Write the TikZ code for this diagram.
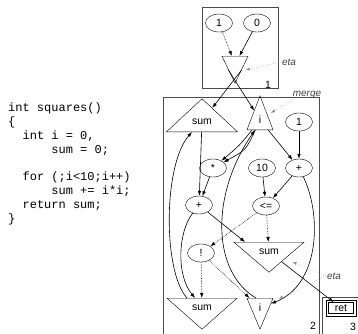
\documentclass[tikz,border=0pt]{standalone}
\usepackage{fontspec}
\setmainfont{Liberation Sans}
\setmonofont{Liberation Mono}
\usetikzlibrary{shapes.geometric, arrows.meta}
\tikzset{x=1pt,y=-1pt}
\tikzset{
  every node/.style={font=\fontsize{10.5}{12}\selectfont},
  op/.style={draw, ellipse, minimum width=27pt, minimum height=18pt, inner sep=0pt},
  port/.style={draw, isosceles triangle, isosceles triangle stretches, inner sep=0pt},
  inport/.style={port, shape border rotate=90, anchor=lower side},
  outport/.style={port, shape border rotate=270, anchor=lower side},
  retbox/.style={draw, line width=0.5pt, minimum width=25pt, minimum height=11pt, inner sep=0pt},
  flow/.style={-{Latex[length=5pt,width=3.6pt]}, line width=0.6pt},
  ctrl/.style={flow, densely dotted},
  note/.style={font=\fontsize{10}{12}\selectfont\itshape, text=black!75, inner sep=1pt},
  noteline/.style={black!45, dotted, line width=0.5pt, -{Latex[length=4pt,width=3pt]}},
  region/.style={draw=black!70, line width=0.5pt},
  num/.style={inner sep=0pt},
  code/.style={anchor=north west, inner sep=0pt, align=left,
    font=\ttfamily\fontsize{12}{13.8}\selectfont},
}

\begin{document}
\begin{tikzpicture}
\useasboundingbox (0,0) rectangle (358,333);

% source
\node[code] (src) at (8,103) {int squares()\\
  \{\\
  \phantom{xx}int i = 0,\\
  \phantom{xxxxxx}sum = 0;\\[13.8pt]
  \phantom{xx}for (;i<10;i++)\\
  \phantom{xxxxxx}sum += i*i;\\
  \phantom{xx}return sum;\\
  \}};

% regions
\draw[region] (202,7) rectangle (278,88);
\draw[region] (163,97) rectangle (319,334);
\draw[region] (322,297) rectangle (362,335);
\node[num] (r1) at (268,85) {1};
\node[num] (r2) at (313,326) {2};
\node[num] (r3) at (353,327) {3};

% region 1
\node[op] (one) at (219,23) {1};
\node[op] (zero) at (257,23) {0};
\node[outport, minimum width=26, minimum height=27] (eta1) at (235,56) {};

% region 2: merges
\node[inport, minimum width=71, minimum height=33] (sumIn) at (202,132) {sum};
\node[inport, minimum width=26, minimum height=34] (iIn) at (260,130) {i};
% body
\node[op] (oneB) at (299,122) {1};
\node[op] (mul) at (213,168) {*};
\node[op] (ten) at (262,168) {10};
\node[op] (incr) at (299,168) {+};
\node[op] (acc) at (199,205) {+};
\node[op] (cmp) at (266,206) {<=};
\node[op] (neg) at (201,253) {!};
% etas
\node[outport, minimum width=70, minimum height=30] (sumEta) at (269,242) {sum};
\node[outport, minimum width=70, minimum height=31] (sumOut) at (202,298) {sum};
\node[outport, minimum width=26, minimum height=31] (iOut) at (260,298) {i};

% region 3, return node with its outer frame
\node[retbox] (ret) at (341,308) {ret};
\draw[line width=0.5pt] ([xshift=-2.5pt,yshift=2.5pt]ret.north west) rectangle ([xshift=2.5pt,yshift=-2.5pt]ret.south east);

% annotations
\node[note] (etaA) at (289,62) {eta};
\node[note] (mergeA) at (307,95) {merge};
\node[note] (etaB) at (334,276) {eta};

% region 1 edges
\draw[ctrl] (one) -- (eta1);
\draw[flow] (zero) -- (eta1);
\draw[flow] (eta1.left side) -- (sumIn);
\draw[flow] (eta1.right side) -- (iIn);

% loop body
\draw[flow] (iIn) .. controls (240,145) .. (mul);
\draw[flow] (iIn) .. controls (246,150) .. (mul);
\draw[flow] (iIn) -- (incr);
\draw[flow] (oneB) -- (incr);
\draw[flow] (mul) -- (acc);
\draw[flow] (sumIn) -- (acc);
\draw[flow] (ten) -- (cmp);
\draw[flow] (incr) -- (cmp);
\draw[flow] (acc) -- ([xshift=-24]sumEta.lower side);
\draw[ctrl] (cmp) -- (sumEta);
\draw[ctrl] (cmp) -- (neg);
\draw[ctrl] (neg) -- (sumOut);
\draw[ctrl] (neg) -- (iOut);
\draw[flow] (acc) .. controls (178,232) and (176,275) .. ([xshift=-7]sumOut.lower side);
\draw[flow] (incr) .. controls (322,215) and (320,285) .. (iOut);
% back edges
\draw[flow] ([xshift=-15]sumOut.lower side) .. controls (163,272) and (163,165) .. ([xshift=-10]sumIn.lower side);
\draw[flow] ([xshift=-4]iOut.lower side) .. controls (212,272) and (210,195) .. ([xshift=-5]iIn.lower side);
% exit
\draw[flow] (sumEta) -- (ret);

% annotation lines
\draw[noteline] (etaA.west) -- ([xshift=4pt]eta1.left side);
\draw[noteline, shorten >=4pt] (mergeA.south west) -- (iIn);
\draw[noteline, shorten >=8pt] (etaB.west) -- (sumEta);
\draw[noteline, shorten >=8pt] (etaB.west) -- (iOut);
\end{tikzpicture}
\end{document}
